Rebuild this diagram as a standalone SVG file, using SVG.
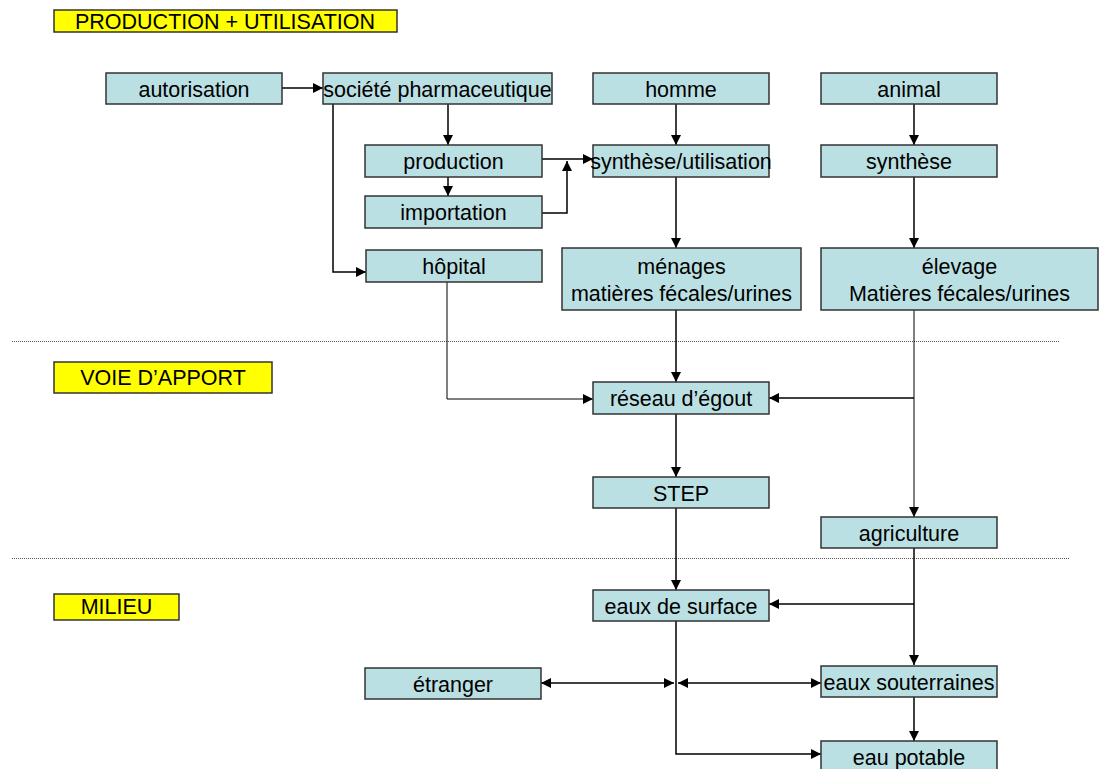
<svg xmlns="http://www.w3.org/2000/svg" width="1107" height="769" viewBox="0 0 1107 769">
<style>
.n rect{fill:#bbe0e3;stroke:#333;stroke-width:1.5}
.y rect{fill:#ffff00;stroke:#333;stroke-width:1.5}
text{font-family:"Liberation Sans",Arial,sans-serif;font-size:21.5px;fill:#000;text-anchor:middle}
.c line,.c polyline{stroke:#000;stroke-width:1.5;fill:none}
.c .thin{stroke-width:1}
.d{stroke:#555;stroke-width:1;stroke-dasharray:1 1}
</style>
<defs>
<marker id="a" viewBox="0 0 10 10" refX="10" refY="5" markerWidth="11" markerHeight="10" markerUnits="userSpaceOnUse" orient="auto-start-reverse">
<path d="M0,0L10,5L0,10z" fill="#000"/>
</marker>
</defs>
<rect width="1107" height="769" fill="#fff"/>
<line class="d" x1="12" y1="341.5" x2="1059" y2="341.5"/>
<line class="d" x1="12" y1="558.5" x2="1069" y2="558.5"/>
<g id="lbl-prod" class="y"><rect x="54" y="10" width="343" height="22"/><text x="225" y="28.5">PRODUCTION + UTILISATION</text></g>
<g id="lbl-voie" class="y"><rect x="54" y="362" width="218" height="31"/><text x="163" y="385">VOIE D’APPORT</text></g>
<g id="lbl-milieu" class="y"><rect x="54" y="594" width="125" height="26"/><text x="116.5" y="614">MILIEU</text></g>
<g class="c" id="connectors">
<line x1="282" y1="88" x2="323" y2="88" marker-end="url(#a)"/>
<line x1="448" y1="104" x2="448" y2="145" marker-end="url(#a)"/>
<line x1="448" y1="177" x2="448" y2="196" marker-end="url(#a)"/>
<polyline points="333,104 333,272 366,272" marker-end="url(#a)"/>
<line x1="542" y1="159" x2="593" y2="159" marker-end="url(#a)"/>
<polyline points="542,213 567,213 567,161" marker-end="url(#a)"/>
<line x1="676" y1="104" x2="676" y2="145" marker-end="url(#a)"/>
<line x1="914" y1="104" x2="914" y2="145" marker-end="url(#a)"/>
<line x1="676" y1="177" x2="676" y2="248" marker-end="url(#a)"/>
<line x1="914" y1="177" x2="914" y2="248" marker-end="url(#a)"/>
<polyline class="thin" points="447,282 447,399 593,399" marker-end="url(#a)"/>
<line x1="676" y1="310" x2="676" y2="382" marker-end="url(#a)"/>
<line class="thin" x1="914" y1="310" x2="914" y2="517" marker-end="url(#a)"/>
<line x1="914" y1="398" x2="769" y2="398" marker-end="url(#a)"/>
<line x1="676" y1="414" x2="676" y2="477" marker-end="url(#a)"/>
<line x1="676" y1="508" x2="676" y2="590" marker-end="url(#a)"/>
<line x1="914" y1="548" x2="914" y2="665" marker-end="url(#a)"/>
<line x1="914" y1="604" x2="769" y2="604" marker-end="url(#a)"/>
<polyline points="676,621 676,754 821,754" marker-end="url(#a)"/>
<line x1="541" y1="683" x2="674" y2="683" marker-start="url(#a)" marker-end="url(#a)"/>
<line x1="678" y1="683" x2="821" y2="683" marker-start="url(#a)" marker-end="url(#a)"/>
<line x1="914" y1="697" x2="914" y2="741" marker-end="url(#a)"/>
</g>
<g id="autorisation" class="n"><rect x="106" y="73" width="176" height="31"/><text x="194" y="96.5">autorisation</text></g>
<g id="societe" class="n"><rect x="323" y="73" width="229" height="31"/><text x="437.5" y="96.5">société pharmaceutique</text></g>
<g id="homme" class="n"><rect x="593" y="73" width="176" height="31"/><text x="681" y="96.5">homme</text></g>
<g id="animal" class="n"><rect x="821" y="73" width="176" height="31"/><text x="909" y="96.5">animal</text></g>
<g id="production" class="n"><rect x="365" y="145" width="177" height="32"/><text x="453.5" y="168.5">production</text></g>
<g id="synthese-util" class="n"><rect x="593" y="145" width="176" height="32"/><text x="681" y="168.5">synthèse/utilisation</text></g>
<g id="synthese" class="n"><rect x="821" y="145" width="176" height="32"/><text x="909" y="168.5">synthèse</text></g>
<g id="importation" class="n"><rect x="365" y="196" width="177" height="32"/><text x="453.5" y="219.5">importation</text></g>
<g id="hopital" class="n"><rect x="366" y="250" width="176" height="32"/><text x="454" y="273.5">hôpital</text></g>
<g id="menages" class="n"><rect x="562" y="248" width="239" height="62"/><text x="681.5" y="274">ménages</text><text x="681.5" y="301">matières fécales/urines</text></g>
<g id="elevage" class="n"><rect x="821" y="248" width="277" height="62"/><text x="959.5" y="274">élevage</text><text x="959.5" y="301">Matières fécales/urines</text></g>
<g id="reseau" class="n"><rect x="593" y="382" width="176" height="32"/><text x="681" y="405.5">réseau d’égout</text></g>
<g id="step" class="n"><rect x="593" y="477" width="176" height="31"/><text x="681" y="500.5">STEP</text></g>
<g id="agriculture" class="n"><rect x="821" y="517" width="176" height="31"/><text x="909" y="540.5">agriculture</text></g>
<g id="eaux-surface" class="n"><rect x="593" y="590" width="176" height="31"/><text x="681" y="613.5">eaux de surface</text></g>
<g id="etranger" class="n"><rect x="365" y="668" width="176" height="31"/><text x="453" y="691.5">étranger</text></g>
<g id="eaux-souterraines" class="n"><rect x="821" y="666" width="176" height="31"/><text x="909" y="689.5">eaux souterraines</text></g>
<g id="eau-potable" class="n"><rect x="821" y="741" width="176" height="31"/><text x="909" y="764.5">eau potable</text></g>
</svg>
